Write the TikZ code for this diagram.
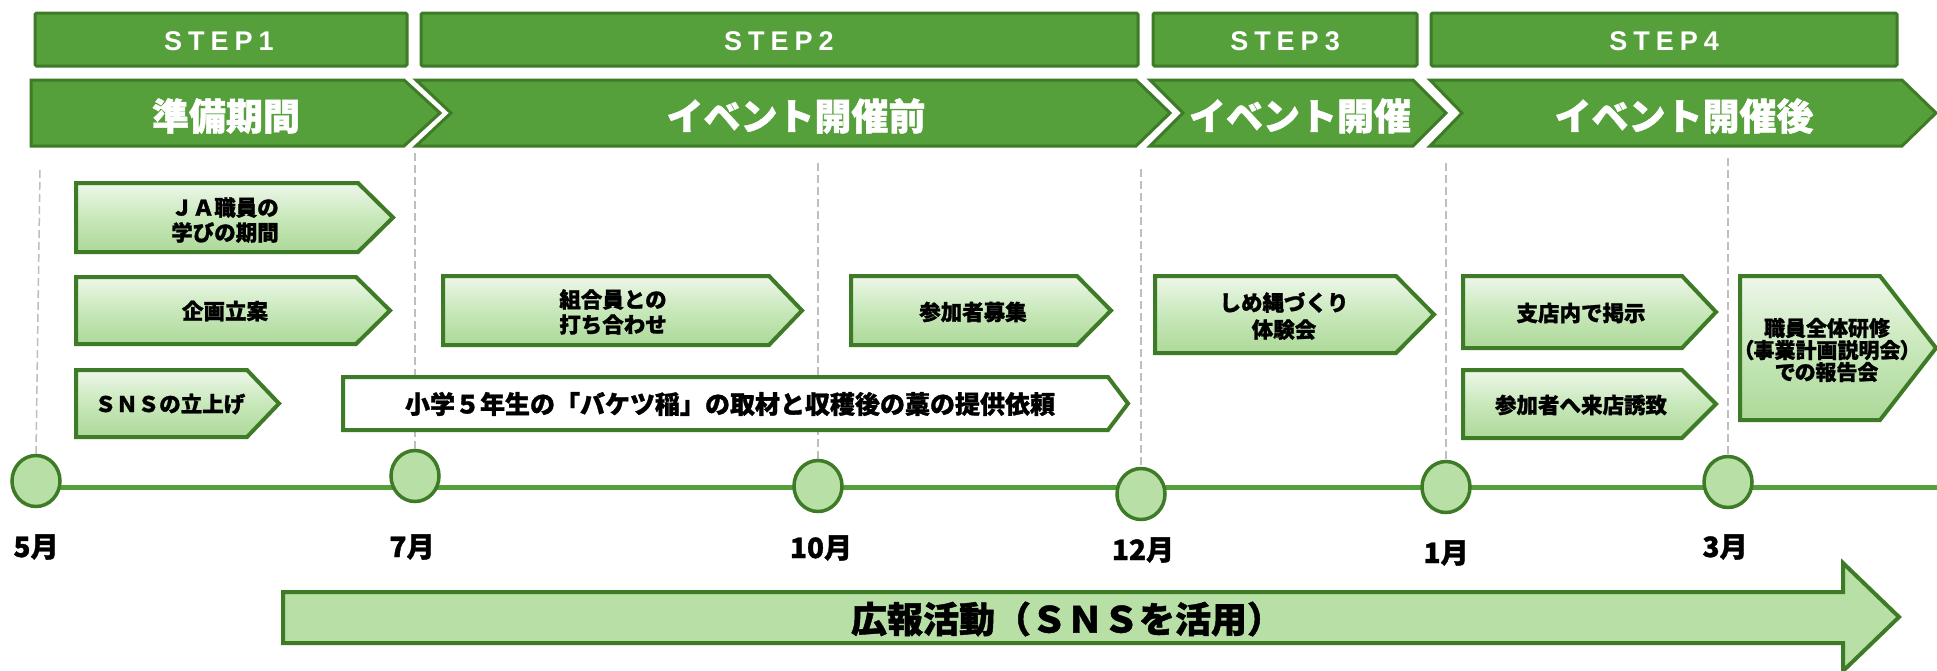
\documentclass[tikz,border=0pt]{standalone}
\usepackage{fontspec}
\setmainfont{Noto Sans CJK JP}
\newfontfamily\heavyjp{Noto Sans CJK JP}[BoldFeatures={FakeBold=1.2}]
\newfontfamily\stepfont{Liberation Sans}[BoldFont={Liberation Sans Bold}]
\usetikzlibrary{shapes.geometric}
\definecolor{dkg}{HTML}{3E7B27}
\definecolor{stg}{HTML}{55A03A}
\definecolor{ltg}{HTML}{B7DFA6}
\definecolor{gtop}{HTML}{EEF7EA}
\definecolor{gmid}{HTML}{C8E8BA}
\definecolor{gbot}{HTML}{ADD999}
\definecolor{dashc}{HTML}{BEBEBE}
% #1 style, #2 x1, #3 y1, #4 tip x, #5 y2, #6 tip length, #7 notch depth
\newcommand\chev[7]{\path[#1] (#2,#3) -- ({#4-#6},#3) -- (#4,{(#3+#5)/2}) -- ({#4-#6},#5) -- (#2,#5) -- ({#2+#7},{(#3+#5)/2}) -- cycle;}
\newcommand\steplabel[1]{S\kern6pt T\kern6pt E\kern6pt P\kern6pt #1}
\tikzset{
  stepbox/.style={draw=dkg, fill=stg, line width=3pt, rounded corners=1.5pt},
  phase/.style={draw=dkg, fill=stg, line width=3pt, line join=miter},
  task/.style={draw=dkg, line width=4pt, line join=miter, top color=gtop, bottom color=gbot, middle color=gmid},
  wtask/.style={draw=dkg, line width=4pt, line join=miter, fill=white},
  big/.style={draw=dkg, line width=4pt, line join=miter, fill=ltg},
  steptxt/.style={text=white, font=\stepfont\bfseries\fontsize{27}{30}\selectfont, inner sep=0pt},
  phtxt/.style={text=white, font=\heavyjp\bfseries\fontsize{37}{40}\selectfont, inner sep=0pt},
  tasktxt/.style={text=black, font=\heavyjp\bfseries\fontsize{21.5}{25}\selectfont, align=center, inner sep=0pt},
  montxt/.style={text=black, font=\heavyjp\bfseries\fontsize{28}{30}\selectfont, inner sep=0pt},
  mcirc/.style={ellipse, draw=dkg, fill=ltg, line width=3.5pt, minimum width=48pt, minimum height=51pt, inner sep=0pt},
  tl/.style={draw=stg, line width=5pt},
  vdash/.style={draw=dashc, line width=1.5pt, dash pattern=on 8pt off 4pt}
}
\begin{document}
\begin{tikzpicture}[x=1pt,y=-1pt]
\fill[white] (0,0) rectangle (1937,670);
\useasboundingbox (0,0) rectangle (1937,670);
% STEP boxes
\path[stepbox] (35,13) rectangle (407,66);
\path[stepbox] (421,13) rectangle (1138,66);
\path[stepbox] (1153,13) rectangle (1417,66);
\path[stepbox] (1431,13) rectangle (1897,66);
\node[steptxt] (s1) at (219,41) {\steplabel{1}};
\node[steptxt] (s2) at (779,41) {\steplabel{2}};
\node[steptxt] (s3) at (1285,41) {\steplabel{3}};
\node[steptxt] (s4) at (1664,41) {\steplabel{4}};
% phase arrows
\chev{phase}{31}{80}{440}{146}{36}{0}
\chev{phase}{416}{80}{1170}{146}{34}{35}
\chev{phase}{1150}{80}{1446}{146}{33}{33}
\chev{phase}{1430}{80}{1936}{146}{34}{32}
\node[phtxt] (p1) at (226,116) {準備期間};
\node[phtxt] (p2) at (796,116) {イベント開催前};
\node[phtxt] (p3) at (1300,116) {イベント開催};
\node[phtxt] (p4) at (1684,116) {イベント開催後};
% timeline
\coordinate (tlstart) at (37,487);
\coordinate (tlend) at (1937,487);
\draw[tl] (tlstart) -- (tlend);
\node[mcirc] (m5) at (36,481) {};
\node[mcirc] (m7) at (415,476) {};
\node[mcirc] (m10) at (818,486) {};
\node[mcirc] (m12) at (1141,494) {};
\node[mcirc] (m1) at (1446,487) {};
\node[mcirc] (m3) at (1728,482) {};
\coordinate (d5) at (40,170);
\coordinate (d7) at (415,153);
\coordinate (d10) at (818,163);
\coordinate (d12) at (1141,169);
\coordinate (d1) at (1446,163);
\coordinate (d3) at (1728,158);
\draw[vdash] (d5) -- (m5.north);
\draw[vdash] (d7) -- (m7.north);
\draw[vdash] (d10) -- (m10.north);
\draw[vdash] (d12) -- (m12.north);
\draw[vdash] (d1) -- (m1.north);
\draw[vdash] (d3) -- (m3.north);
\node[montxt] (l5) at (36,547) {5月};
\node[montxt] (l7) at (412,547) {7月};
\node[montxt] (l10) at (821,548) {10月};
\node[montxt] (l12) at (1143,550) {12月};
\node[montxt] (l1) at (1446,553) {1月};
\node[montxt] (l3) at (1725,547) {3月};
% task arrows
\chev{task}{76}{183}{393}{252}{35}{0}
\node[tasktxt] (t1) at (225,220) {ＪＡ職員の\\学びの期間};
\chev{task}{76}{277}{390}{344}{34}{0}
\node[tasktxt] (t2) at (225,311) {企画立案};
\chev{task}{76}{370}{279}{437}{32}{0}
\node[tasktxt] (t3) at (170,404) {ＳＮＳの立上げ};
\chev{task}{443}{276}{802}{345}{33}{0}
\node[tasktxt] (t4) at (613,312) {組合員との\\打ち合わせ};
\chev{task}{851}{276}{1111}{345}{34}{0}
\node[tasktxt] (t5) at (973,312) {参加者募集};
\chev{wtask}{343}{377}{1128}{430}{20}{0}
\node[tasktxt, font=\heavyjp\bfseries\fontsize{25}{28}\selectfont] (t6) at (730,404) {小学５年生の「バケツ稲」の取材と収穫後の藁の提供依頼};
\chev{task}{1155}{276}{1434}{353}{38}{0}
\node[tasktxt, font=\heavyjp\bfseries\fontsize{21.5}{27}\selectfont] (t7) at (1284,316) {しめ縄づくり\\体験会};
\chev{task}{1463}{276}{1716}{348}{34}{0}
\node[tasktxt] (t8) at (1581,313) {支店内で掲示};
\chev{task}{1463}{370}{1716}{438}{34}{0}
\node[tasktxt] (t9) at (1581,405) {参加者へ来店誘致};
\chev{task}{1740}{276}{1936}{420}{56}{0}
\node[tasktxt, font=\heavyjp\bfseries\fontsize{21}{22}\selectfont\addfontfeature{RawFeature=+palt}] (t10) at (1827,350) {職員全体研修\\（事業計画説明会）\\での報告会};
% big arrow
\path[big] (283,592) -- (1843,592) -- (1843,563) -- (1899,617) -- (1843,671) -- (1843,643) -- (283,643) -- cycle;
\node[text=black, font=\heavyjp\bfseries\fontsize{36}{38}\selectfont, inner sep=0pt] (pr) at (1067,619) {広報活動（ＳＮＳを活用）};
\end{tikzpicture}
\end{document}
